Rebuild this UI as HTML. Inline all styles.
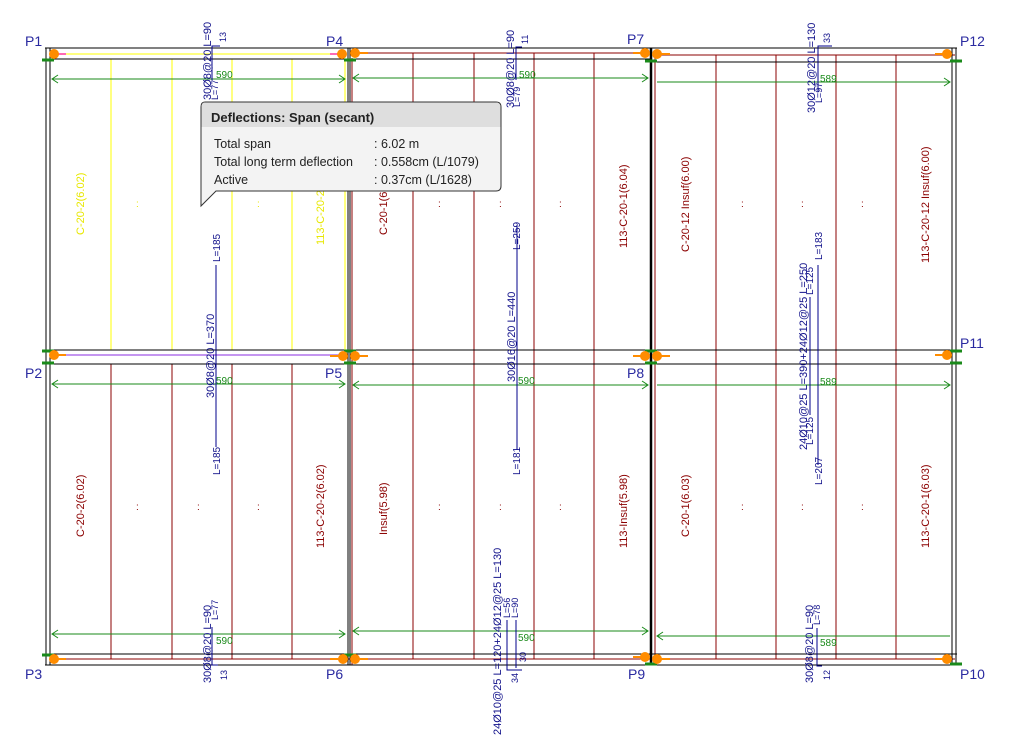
<!DOCTYPE html>
<html><head><meta charset="utf-8"><style>
html,body{margin:0;padding:0;background:#fff;}
svg{display:block;font-family:"Liberation Sans",sans-serif;}
.p{font-size:14px;fill:#2a2aa0;}
.b{font-size:11px;fill:#10108a;}
.r{font-size:11px;fill:#8b0000;}
.y{font-size:11px;fill:#e8e800;}
.g{font-size:10px;fill:#1a8a1a;}
</style></head><body>
<svg width="1018" height="744" viewBox="0 0 1018 744" xmlns="http://www.w3.org/2000/svg">
<g fill="none" stroke-width="1">
<g stroke="#ffff00"><line x1="111" y1="59" x2="111" y2="350"/><line x1="172" y1="59" x2="172" y2="350"/><line x1="232" y1="59" x2="232" y2="350"/><line x1="292" y1="59" x2="292" y2="350"/><line x1="50" y1="54" x2="345" y2="54"/><line x1="345" y1="59" x2="345" y2="350"/></g>
<g stroke="#8b0000">
<line x1="111" y1="364" x2="111" y2="659"/><line x1="172" y1="364" x2="172" y2="659"/><line x1="232" y1="364" x2="232" y2="659"/><line x1="292" y1="364" x2="292" y2="659"/>
<line x1="413" y1="53" x2="413" y2="659"/><line x1="474" y1="53" x2="474" y2="659"/><line x1="534" y1="53" x2="534" y2="659"/><line x1="594" y1="53" x2="594" y2="659"/>
<line x1="716" y1="55" x2="716" y2="659"/><line x1="776" y1="55" x2="776" y2="659"/><line x1="836" y1="55" x2="836" y2="659"/><line x1="896" y1="55" x2="896" y2="659"/>
<line x1="352" y1="53" x2="648" y2="53"/><line x1="655" y1="55" x2="955" y2="55"/>
<line x1="50" y1="659" x2="955" y2="659"/>
<line x1="352" y1="58" x2="352" y2="665"/><line x1="655" y1="58" x2="655" y2="665"/>
</g>
<g stroke="#000">
<line x1="45" y1="48" x2="957" y2="48"/><line x1="45" y1="59" x2="650" y2="59"/><line x1="655" y1="62" x2="957" y2="62"/>
<line x1="45" y1="350" x2="957" y2="350"/><line x1="45" y1="364" x2="957" y2="364"/>
<line x1="45" y1="654" x2="957" y2="654"/><line x1="45" y1="665" x2="957" y2="665"/>
<line x1="46" y1="48" x2="46" y2="665"/><line x1="50" y1="48" x2="50" y2="665"/>
<line x1="348" y1="48" x2="348" y2="665"/><line x1="350" y1="48" x2="350" y2="665"/>
<line x1="651" y1="48" x2="651" y2="665" stroke-width="2.5"/>
<line x1="952" y1="48" x2="952" y2="665"/><line x1="956" y1="48" x2="956" y2="665"/>
</g>
<line x1="50" y1="355" x2="345" y2="355" stroke="#8a2be2"/>
<g stroke="#1a8a1a">
<line x1="52" y1="79" x2="345" y2="79"/><line x1="353" y1="78" x2="648" y2="78"/><line x1="657" y1="82" x2="950" y2="82"/>
<line x1="52" y1="384" x2="345" y2="384"/><line x1="353" y1="385" x2="648" y2="385"/><line x1="657" y1="385" x2="950" y2="385"/>
<line x1="52" y1="634" x2="345" y2="634"/><line x1="353" y1="631" x2="648" y2="631"/><line x1="657" y1="636" x2="950" y2="636"/>
<polyline points="58,75 52,79 58,83"/><polyline points="339,75 345,79 339,83"/><polyline points="359,74 353,78 359,82"/><polyline points="642,74 648,78 642,82"/><polyline points="944,78 950,82 944,86"/>
<polyline points="58,380 52,384 58,388"/><polyline points="339,380 345,384 339,388"/><polyline points="359,381 353,385 359,389"/><polyline points="642,381 648,385 642,389"/><polyline points="944,381 950,385 944,389"/>
<polyline points="58,630 52,634 58,638"/><polyline points="339,630 345,634 339,638"/><polyline points="359,627 353,631 359,635"/><polyline points="642,627 648,631 642,635"/><polyline points="663,632 657,636 663,640"/>
<g stroke-width="3"><line x1="42" y1="60" x2="54" y2="60"/><line x1="42" y1="351" x2="54" y2="351"/><line x1="42" y1="363" x2="54" y2="363"/><line x1="42" y1="655" x2="54" y2="655"/><line x1="344" y1="60" x2="356" y2="60"/><line x1="344" y1="351" x2="356" y2="351"/><line x1="344" y1="363" x2="356" y2="363"/><line x1="344" y1="655" x2="356" y2="655"/><line x1="645" y1="61" x2="657" y2="61"/><line x1="645" y1="351" x2="657" y2="351"/><line x1="645" y1="363" x2="657" y2="363"/><line x1="645" y1="664" x2="657" y2="664"/><line x1="950" y1="61" x2="962" y2="61"/><line x1="950" y1="351" x2="962" y2="351"/><line x1="950" y1="363" x2="962" y2="363"/><line x1="950" y1="664" x2="962" y2="664"/></g>
</g>
<g stroke="#00008b">
<polyline points="212,80 212,46 220,46"/><polyline points="516,80 516,47 522,47"/><polyline points="818,92 818,46 832,46"/>
<line x1="216" y1="265" x2="216" y2="447"/><line x1="517" y1="225" x2="517" y2="450"/>
<line x1="818" y1="265" x2="818" y2="465"/><line x1="810" y1="297" x2="810" y2="415"/>
<polyline points="212,627 212,665 218,665"/><polyline points="507,620 507,670 522,670"/><polyline points="516,620 516,668"/><polyline points="817,628 817,666 822,666"/>
</g>
<g stroke="#ff8c00" stroke-width="2">
<line x1="54" y1="54" x2="66" y2="54" stroke="#ff69b4"/><line x1="330" y1="54" x2="342" y2="54" stroke="#ff69b4"/><line x1="355" y1="53" x2="368" y2="53"/><line x1="633" y1="53" x2="645" y2="53"/><line x1="657" y1="54" x2="670" y2="54"/><line x1="935" y1="54" x2="947" y2="54"/>
<line x1="54" y1="355" x2="66" y2="355"/><line x1="330" y1="356" x2="343" y2="356"/><line x1="355" y1="356" x2="368" y2="356"/><line x1="633" y1="356" x2="645" y2="356"/><line x1="657" y1="356" x2="670" y2="356"/><line x1="935" y1="355" x2="947" y2="355"/>
<line x1="54" y1="659" x2="66" y2="659"/><line x1="330" y1="659" x2="343" y2="659"/><line x1="355" y1="659" x2="368" y2="659"/><line x1="633" y1="657" x2="645" y2="657"/><line x1="657" y1="659" x2="670" y2="659"/><line x1="935" y1="659" x2="947" y2="659"/>
</g>
</g>
<g fill="#ff8c00">
<circle cx="54" cy="54" r="5"/><circle cx="342" cy="54" r="5"/><circle cx="355" cy="53" r="5"/><circle cx="645" cy="53" r="5"/><circle cx="657" cy="54" r="5"/><circle cx="947" cy="54" r="5"/>
<circle cx="54" cy="355" r="5"/><circle cx="343" cy="356" r="5"/><circle cx="355" cy="356" r="5"/><circle cx="645" cy="356" r="5"/><circle cx="657" cy="356" r="5"/><circle cx="947" cy="355" r="5"/>
<circle cx="54" cy="659" r="5"/><circle cx="343" cy="659" r="5"/><circle cx="355" cy="659" r="5"/><circle cx="645" cy="657" r="5"/><circle cx="657" cy="659" r="5"/><circle cx="947" cy="659" r="5"/>
</g>
<text class="p" x="25" y="46">P1</text><text class="p" x="326" y="46">P4</text><text class="p" x="627" y="44">P7</text><text class="p" x="960" y="46">P12</text>
<text class="p" x="25" y="378">P2</text><text class="p" x="325" y="378">P5</text><text class="p" x="627" y="378">P8</text><text class="p" x="960" y="348">P11</text>
<text class="p" x="25" y="679">P3</text><text class="p" x="326" y="679">P6</text><text class="p" x="628" y="679">P9</text><text class="p" x="960" y="679">P10</text>
<text class="g" x="216" y="78">590</text><text class="g" x="519" y="78">590</text><text class="g" x="820" y="82">589</text>
<text class="g" x="216" y="384">590</text><text class="g" x="518" y="384">590</text><text class="g" x="820" y="385">589</text>
<text class="g" x="216" y="644">590</text><text class="g" x="518" y="641">590</text><text class="g" x="820" y="646">589</text>
<g>
<text class="y" transform="translate(84,235) rotate(-90)">C-20-2(6.02)</text>
<text class="y" transform="translate(324,245) rotate(-90)">113-C-20-2</text>
<text class="r" transform="translate(387,235) rotate(-90)">C-20-1(6</text>
<text class="r" transform="translate(627,248) rotate(-90)">113-C-20-1(6.04)</text>
<text class="r" transform="translate(689,252) rotate(-90)">C-20-12 Insuf(6.00)</text>
<text class="r" transform="translate(929,263) rotate(-90)">113-C-20-12 Insuf(6.00)</text>
<text class="r" transform="translate(84,537) rotate(-90)">C-20-2(6.02)</text>
<text class="r" transform="translate(324,548) rotate(-90)">113-C-20-2(6.02)</text>
<text class="r" transform="translate(387,535) rotate(-90)">Insuf(5.98)</text>
<text class="r" transform="translate(627,548) rotate(-90)">113-Insuf(5.98)</text>
<text class="r" transform="translate(689,537) rotate(-90)">C-20-1(6.03)</text>
<text class="r" transform="translate(929,548) rotate(-90)">113-C-20-1(6.03)</text>
<text class="b" transform="translate(211,100) rotate(-90)">30Ø8@20 L=90</text>
<text class="b" transform="translate(218,100) rotate(-90)" style="font-size:9px">L=77</text>
<text class="b" transform="translate(226,42) rotate(-90)" style="font-size:9px">13</text>
<text class="b" transform="translate(514,108) rotate(-90)">30Ø8@20 L=90</text>
<text class="b" transform="translate(520,107) rotate(-90)" style="font-size:9px">L=79</text>
<text class="b" transform="translate(528,44) rotate(-90)" style="font-size:9px">11</text>
<text class="b" transform="translate(815,113) rotate(-90)">30Ø12@20 L=130</text>
<text class="b" transform="translate(822,103) rotate(-90)" style="font-size:9px">L=97</text>
<text class="b" transform="translate(830,43) rotate(-90)" style="font-size:9px">33</text>
<text class="b" transform="translate(220,262) rotate(-90)" style="font-size:10px">L=185</text>
<text class="b" transform="translate(214,398) rotate(-90)">30Ø8@20 L=370</text>
<text class="b" transform="translate(220,475) rotate(-90)" style="font-size:10px">L=185</text>
<text class="b" transform="translate(520,250) rotate(-90)" style="font-size:10px">L=259</text>
<text class="b" transform="translate(515,382) rotate(-90)">30Ø16@20 L=440</text>
<text class="b" transform="translate(520,475) rotate(-90)" style="font-size:10px">L=181</text>
<text class="b" transform="translate(822,260) rotate(-90)" style="font-size:10px">L=183</text>
<text class="b" transform="translate(807,450) rotate(-90)">24Ø10@25 L=390+24Ø12@25 L=250</text>
<text class="b" transform="translate(813,295) rotate(-90)" style="font-size:10px">L=125</text>
<text class="b" transform="translate(813,445) rotate(-90)" style="font-size:10px">L=125</text>
<text class="b" transform="translate(822,485) rotate(-90)" style="font-size:10px">L=207</text>
<text class="b" transform="translate(211,683) rotate(-90)">30Ø8@20 L=90</text>
<text class="b" transform="translate(218,620) rotate(-90)" style="font-size:9px">L=77</text>
<text class="b" transform="translate(227,680) rotate(-90)" style="font-size:9px">13</text>
<text class="b" transform="translate(501,735) rotate(-90)">24Ø10@25 L=120+24Ø12@25 L=130</text>
<text class="b" transform="translate(510,618) rotate(-90)" style="font-size:9px">L=56</text>
<text class="b" transform="translate(518,618) rotate(-90)" style="font-size:9px">L=90</text>
<text class="b" transform="translate(518,683) rotate(-90)" style="font-size:9px">34</text>
<text class="b" transform="translate(526,662) rotate(-90)" style="font-size:9px">30</text>
<text class="b" transform="translate(813,683) rotate(-90)">30Ø8@20 L=90</text>
<text class="b" transform="translate(820,625) rotate(-90)" style="font-size:9px">L=78</text>
<text class="b" transform="translate(830,680) rotate(-90)" style="font-size:9px">12</text>
</g>
<g font-size="10">
<text x="136" y="207" fill="#e8e800">:</text><text x="257" y="207" fill="#e8e800">:</text>
<text x="438" y="207" fill="#8b0000">:</text><text x="499" y="207" fill="#8b0000">:</text><text x="559" y="207" fill="#8b0000">:</text>
<text x="741" y="207" fill="#8b0000">:</text><text x="801" y="207" fill="#8b0000">:</text><text x="861" y="207" fill="#8b0000">:</text>
<text x="136" y="510" fill="#8b0000">:</text><text x="197" y="510" fill="#8b0000">:</text><text x="257" y="510" fill="#8b0000">:</text>
<text x="438" y="510" fill="#8b0000">:</text><text x="499" y="510" fill="#8b0000">:</text><text x="559" y="510" fill="#8b0000">:</text>
<text x="741" y="510" fill="#8b0000">:</text><text x="801" y="510" fill="#8b0000">:</text><text x="861" y="510" fill="#8b0000">:</text>
</g>
<path d="M205,102 H496 Q501,102 501,107 V186 Q501,191 496,191 H216 L201,206 V107 Q201,102 205,102 Z" fill="#f3f3f3" stroke="#333"/>
<path d="M205,102.5 H496 Q500.5,102.5 500.5,107 V127 H201.5 V107 Q201.5,102.5 205,102.5 Z" fill="#dedede"/>
<text x="211" y="122" font-size="13" font-weight="bold" fill="#222">Deflections: Span (secant)</text>
<g font-size="12.5" fill="#222">
<text x="214" y="148">Total span</text><text x="374" y="148">: 6.02 m</text>
<text x="214" y="166">Total long term deflection</text><text x="374" y="166">: 0.558cm (L/1079)</text>
<text x="214" y="184">Active</text><text x="374" y="184">: 0.37cm (L/1628)</text>
</g>
</svg>
</body></html>
